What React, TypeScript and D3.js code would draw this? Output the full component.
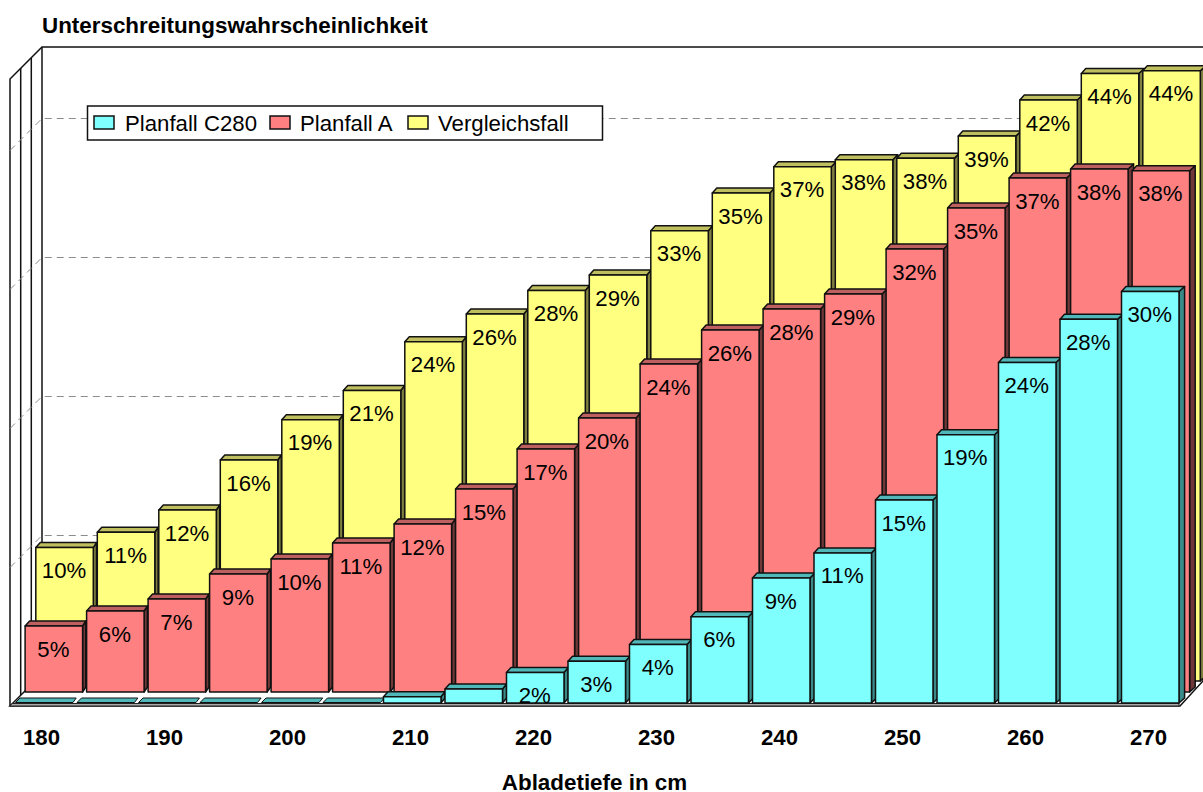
import React from "react";
import * as d3 from "d3";

const categories = [180,185,190,195,200,205,210,215,220,225,230,235,240,245,250,255,260,265,270];
const tickLabels = ["180","190","200","210","220","230","240","250","260","270"];
const yTicks = [10,20,30,40];
const planC280 = [0,0,0,0,0,0,0.45,1.0,2.2,3.0,4.2,6.2,9.0,10.8,14.6,19.3,24.5,27.6,29.6];
const planA = [4.75,5.83,6.69,8.49,9.57,10.72,12.09,14.6,17.48,19.71,23.6,26.04,27.55,28.63,31.87,34.82,36.98,37.63,37.5];
const vergleich = [9.6,10.7,12.3,15.9,18.8,20.9,24.4,26.4,28.1,29.2,32.4,35.1,37.0,37.5,37.6,39.2,41.8,43.7,43.9];
const shownC280 = ["","","","","","","","","2%","3%","4%","6%","9%","11%","15%","19%","24%","28%","30%"];
const shownA = ["5%","6%","7%","9%","10%","11%","12%","15%","17%","20%","24%","26%","28%","29%","32%","35%","37%","38%","38%"];
const shownV = ["10%","11%","12%","16%","19%","21%","24%","26%","28%","29%","33%","35%","37%","38%","38%","39%","42%","44%","44%"];

const FONT = "'Liberation Sans', Arial, sans-serif";
const W = 1203, H = 792;
const barW = 57.5;
const TXT = 22.2;
const TITLE = 22.4;
const x = d3.scaleLinear().domain([0, categories.length - 1]).range([14.5, 1121.5]);
const yScale = d3.scaleLinear().domain([0, 10]).range([0, -139]);

const poly = (pts: [number, number][]) => {
  const p = d3.path();
  pts.forEach((q, i) => (i ? p.lineTo(q[0], q[1]) : p.moveTo(q[0], q[1])));
  p.closePath();
  return p.toString();
};

const rows = [
  { name: "Vergleichsfall", vals: vergleich, text: shownV, off: 21.3, base: 681, fill: "#ffff80", top: "#bfbf60", side: "#808040" },
  { name: "Planfall A", vals: planA, text: shownA, off: 10.6, base: 692, fill: "#ff8080", top: "#bf6060", side: "#703838" },
  { name: "Planfall C280", vals: planC280, text: shownC280, off: 0, base: 703, fill: "#80ffff", top: "#50b8b8", side: "#3a8a8a" },
];
const legendItems = [
  { name: "Planfall C280", fill: "#80ffff", bx: 94, tx: 125 },
  { name: "Planfall A", fill: "#ff8080", bx: 270, tx: 300 },
  { name: "Vergleichsfall", fill: "#ffff80", bx: 408, tx: 438 },
];

export default function App() {
  const gridBack = 674;
  return (
    <svg width={W} height={H} style={{ position: "absolute", left: 0, top: 0, background: "#fff" }} fontFamily={FONT}>
      <g fill="none" stroke="#111" strokeWidth={1.5}>
        <path d="M10 706V79L42 47H1203" />
        <path d="M20.7 706V68" />
        <path d="M31.3 706V58" />
        <path d="M42 674V47" />
      </g>
      <g fill="none" stroke="#8c8c8c" strokeWidth={1} strokeDasharray="7 5">
        {yTicks.map((t) => {
          const yy = gridBack + yScale(t) + 0.5;
          return <path key={t} d={`M10 ${yy + 32}L42 ${yy}H1203`} />;
        })}
      </g>
      <path d={poly([[10, 706], [42, 674], [1203, 674], [1203, 681], [1180, 706]])} fill="#fff" stroke="#111" strokeWidth={1.5} />
      <path d={poly([[12, 703.5], [1179, 703.5], [1179, 706], [10, 706]])} fill="#aaa" stroke="#222" strokeWidth={1} />
      {rows.map((r) => (
        <g key={r.name}>
          {r.vals.map((v, i) => {
            const x0 = x(i) + r.off;
            const x1 = x0 + barW;
            const yB = r.base;
            const yT = yB + yScale(v);
            const dy = 5;
            const dx = 3.2 + (2.4 * i) / (categories.length - 1);
            const dl = 4.5;
            const flat = v === 0;
            return (
              <g key={categories[i]} stroke="#111" strokeWidth={1.5} strokeLinejoin="round">
                {flat ? (
                  <path d={poly([[x0 + 1, yB - 0.5], [x1 + 1, yB - 0.5], [x1 + 1 + dx, yB - dy], [x0 + 1 + dl, yB - dy]])} fill={r.top} strokeWidth={1} />
                ) : (
                  <>
                    <path d={poly([[x1, yB], [x1, yT], [x1 + dx, yT - dy], [x1 + dx, yB - dy]])} fill={r.side} />
                    <path d={poly([[x0, yT], [x1, yT], [x1 + dx, yT - dy], [x0 + dl, yT - dy]])} fill={r.top} />
                    <rect x={x0} y={yT} width={barW} height={yB - yT} fill={r.fill} />
                  </>
                )}
              </g>
            );
          })}
        </g>
      ))}
      {rows.map((r) => (
        <g key={r.name} fontSize={TXT} textAnchor="middle" fill="#000">
          {r.vals.map((v, i) =>
            r.text[i] ? (
              <text key={categories[i]} x={x(i) + r.off + barW / 2 - 0.5} y={r.base + yScale(v) + 30.6}>{r.text[i]}</text>
            ) : null
          )}
        </g>
      ))}
      <rect x={87.5} y={106} width={515} height={34} fill="#fff" stroke="#111" strokeWidth={1.5} />
      {legendItems.map((l) => (
        <g key={l.name}>
          <rect x={l.bx} y={116} width={20} height={13} fill={l.fill} stroke="#111" strokeWidth={1.5} />
          <text x={l.tx} y={130.5} fontSize={TXT}>{l.name}</text>
        </g>
      ))}
      <text x={42} y={33} fontSize={TITLE} fontWeight="bold">Unterschreitungswahrscheinlichkeit</text>
      {tickLabels.map((t) => (
        <text key={t} x={x(categories.indexOf(+t)) + 27} y={745} fontSize={TXT} fontWeight="bold" textAnchor="middle">{t}</text>
      ))}
      <text x={594.5} y={790} fontSize={TITLE} fontWeight="bold" textAnchor="middle">Abladetiefe in cm</text>
    </svg>
  );
}
